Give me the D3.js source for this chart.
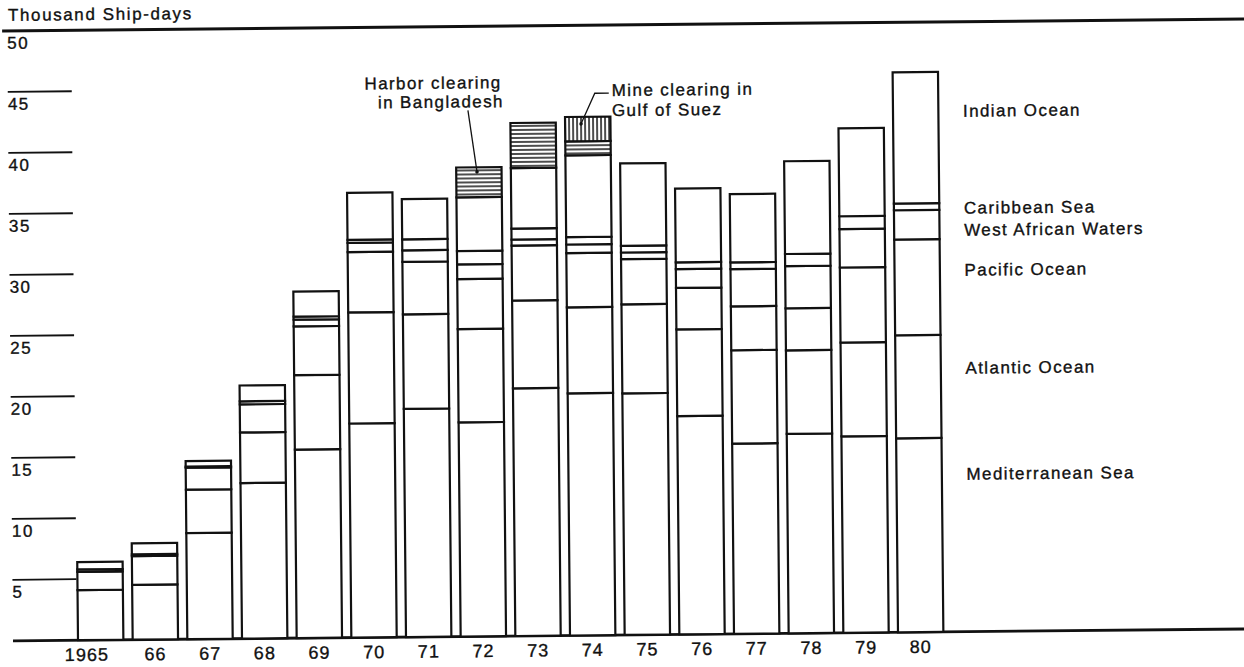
<!DOCTYPE html>
<html>
<head>
<meta charset="utf-8">
<script src="https://cdn.jsdelivr.net/npm/d3@7"></script>
<style>
body { margin: 0; background: #fff; }
text { font-family: "Liberation Sans", Arial, Helvetica, sans-serif; fill: #111; stroke: #111; stroke-width: 0.35px; }
</style>
</head>
<body>
<div id="chart"></div>
<script>
// thousand ship-days per year, bottom to top of each bar
var years = ["1965","66","67","68","69","70","71","72","73","74","75","76","77","78","79","80"];
var med        = [4.1, 4.5, 8.7, 12.75, 15.45, 17.55, 18.7, 17.55, 20.3, 19.85, 19.8, 17.9, 15.6, 16.35, 16.1, 15.9];
var atlantic   = [1.5, 2.35, 3.55, 4.15, 6.1, 9.1, 7.75, 7.65, 7.2, 7.05, 7.3, 7.1, 7.65, 6.85, 7.7, 8.45];
var pacific    = [0.2, 0.15, 1.8, 2.3, 4.0, 4.95, 4.3, 4.1, 4.5, 4.45, 3.7, 3.4, 3.6, 3.45, 6.15, 7.85];
var westAfrica = [0, 0, 0.1, 0.25, 0.55, 0.75, 0.95, 1.2, 0.5, 0.7, 0.55, 1.55, 3.05, 3.45, 3.15, 2.4];
var caribbean  = [0, 0, 0, 0, 0.25, 0.25, 0.9, 1.1, 0.9, 0.6, 0.55, 0.55, 0.55, 1.0, 1.05, 0.55];
var indian     = [0.6, 0.9, 0.45, 1.3, 2.05, 3.85, 3.3, 4.4, 4.95, 6.7, 6.75, 6.05, 5.6, 7.6, 7.2, 10.75];
var harbor     = [0, 0, 0, 0, 0, 0, 0, 2.45, 3.7, 1.15, 0, 0, 0, 0, 0, 0];
var mine       = [0, 0, 0, 0, 0, 0, 0, 0, 0, 2.0, 0, 0, 0, 0, 0, 0];

var yTicks = [5, 10, 15, 20, 25, 30, 35, 40, 45, 50];
var regionNames = ["Indian Ocean", "Caribbean Sea", "West African Waters", "Pacific Ocean", "Atlantic Ocean", "Mediterranean Sea"];
var yTitle = "Thousand Ship-days";

var keys = ["med","atlantic","pacific","westAfrica","caribbean","indian","harbor","mine"];
var rows = years.map(function(y, i) {
	return {year: y, med: med[i], atlantic: atlantic[i], pacific: pacific[i], westAfrica: westAfrica[i],
		caribbean: caribbean[i], indian: indian[i], harbor: harbor[i], mine: mine[i]};
});

var svgWidth = 1244, svgHeight = 667;
var svg = d3.select("#chart").append("svg")
	.attr("width", svgWidth)
	.attr("height", svgHeight);

var defs = svg.append("defs");
defs.append("pattern")
	.attr("id", "hlines")
	.attr("patternUnits", "userSpaceOnUse")
	.attr("width", 10).attr("height", 4)
	.call(p => {
		p.append("rect").attr("width", 10).attr("height", 4).attr("fill", "#fff");
		p.append("line").attr("x1", 0).attr("x2", 10).attr("y1", 2).attr("y2", 2)
			.attr("stroke", "#111").attr("stroke-width", 1.5);
	});
defs.append("pattern")
	.attr("id", "vlines")
	.attr("patternUnits", "userSpaceOnUse")
	.attr("width", 4).attr("height", 10)
	.call(p => {
		p.append("rect").attr("width", 4).attr("height", 10).attr("fill", "#fff");
		p.append("line").attr("x1", 2).attr("x2", 2).attr("y1", 0).attr("y2", 10)
			.attr("stroke", "#111").attr("stroke-width", 1.5);
	});

// the printed page sits slightly tilted in the scan
var chartGroup = svg.append("g")
	.attr("transform", "rotate(-0.55, 100, 640)");

var yScale = d3.scaleLinear().domain([0, 50]).range([640, 30]);
var xScale = d3.scaleBand()
	.domain(years)
	.range([73.35, 948.05])
	.paddingInner(0.17)
	.paddingOuter(0.085);

// top rule and baseline
chartGroup.append("line")
	.attr("x1", 8).attr("x2", 1270)
	.attr("y1", yScale(50)).attr("y2", yScale(50))
	.attr("stroke", "#111").attr("stroke-width", 3);
chartGroup.append("line")
	.attr("x1", 13).attr("x2", 1270)
	.attr("y1", yScale(0)).attr("y2", yScale(0))
	.attr("stroke", "#111").attr("stroke-width", 2.8);

chartGroup.append("text")
	.attr("x", 14)
	.attr("y", 20)
	.style("font-size", "17px")
	.style("letter-spacing", "1.6px")
	.text(yTitle);

// y ticks: short rules with the number underneath
var yTickGroup = chartGroup.append("g");
yTickGroup.selectAll("line")
	.data(yTicks.filter(d => d < 50))
	.enter()
	.append("line")
	.attr("x1", 13).attr("x2", 77)
	.attr("y1", d => yScale(d)).attr("y2", d => yScale(d))
	.attr("stroke", "#111").attr("stroke-width", 1.8);
yTickGroup.selectAll("text")
	.data(yTicks)
	.enter()
	.append("text")
	.attr("x", 13)
	.attr("y", d => yScale(d) + 18)
	.style("font-size", "17px")
	.style("letter-spacing", "1.5px")
	.text(d => d);

// stacked bars
var stacked = d3.stack().keys(keys)(rows);
var barGroup = chartGroup.append("g");
stacked.forEach(function(layer) {
	barGroup.selectAll(null)
		.data(layer.filter(d => d[1] - d[0] > 0))
		.enter()
		.append("rect")
		.attr("x", d => xScale(d.data.year))
		.attr("width", xScale.bandwidth())
		.attr("y", d => yScale(d[1]))
		.attr("height", d => yScale(d[0]) - yScale(d[1]))
		.attr("fill", layer.key == "harbor" ? "url(#hlines)" : layer.key == "mine" ? "url(#vlines)" : "#fff")
		.attr("stroke", "#111")
		.attr("stroke-width", 2.2);
});

// year labels
var xAxis = d3.axisBottom(xScale).tickSize(0).tickPadding(8);
var xAxisGroup = chartGroup.append("g")
	.attr("transform", "translate(0," + yScale(0) + ")")
	.call(xAxis);
xAxisGroup.select(".domain").remove();
xAxisGroup.selectAll("text")
	.attr("dx", (d, i) => i == 0 ? -14 : 0)
	.style("font-family", "'Liberation Sans', Arial, sans-serif")
	.style("font-size", "18px")
	.style("letter-spacing", "1px")
	.attr("fill", "#111");

// region labels to the right of the last bar
var labelY = [125, 222, 244, 284, 382, 488];
chartGroup.append("g").selectAll("text")
	.data(regionNames)
	.enter()
	.append("text")
	.attr("x", 968)
	.attr("y", (d, i) => labelY[i])
	.style("font-size", "17px")
	.style("letter-spacing", "1.4px")
	.text(d => d);

// annotations
var note = chartGroup.append("g").style("font-size", "17px").style("letter-spacing", "1.4px");
note.append("text").attr("x", 507).attr("y", 92).attr("text-anchor", "end").text("Harbor clearing");
note.append("text").attr("x", 509).attr("y", 111).attr("text-anchor", "end").text("in Bangladesh");
note.append("line")
	.attr("x1", 473).attr("y1", 114).attr("x2", 481.5).attr("y2", 175.5)
	.attr("stroke", "#111").attr("stroke-width", 1.3);
note.append("circle").attr("cx", 481.5).attr("cy", 175.5).attr("r", 1.8).attr("fill", "#111");

note.append("text").attr("x", 617).attr("y", 101).text("Mine clearing in");
note.append("text").attr("x", 617).attr("y", 121).text("Gulf of Suez");
note.append("polyline")
	.attr("points", "614,98 600,98 586,128.5")
	.attr("fill", "none")
	.attr("stroke", "#111").attr("stroke-width", 1.3);
note.append("circle").attr("cx", 586).attr("cy", 128.5).attr("r", 1.8).attr("fill", "#111");
</script>
</body>
</html>
